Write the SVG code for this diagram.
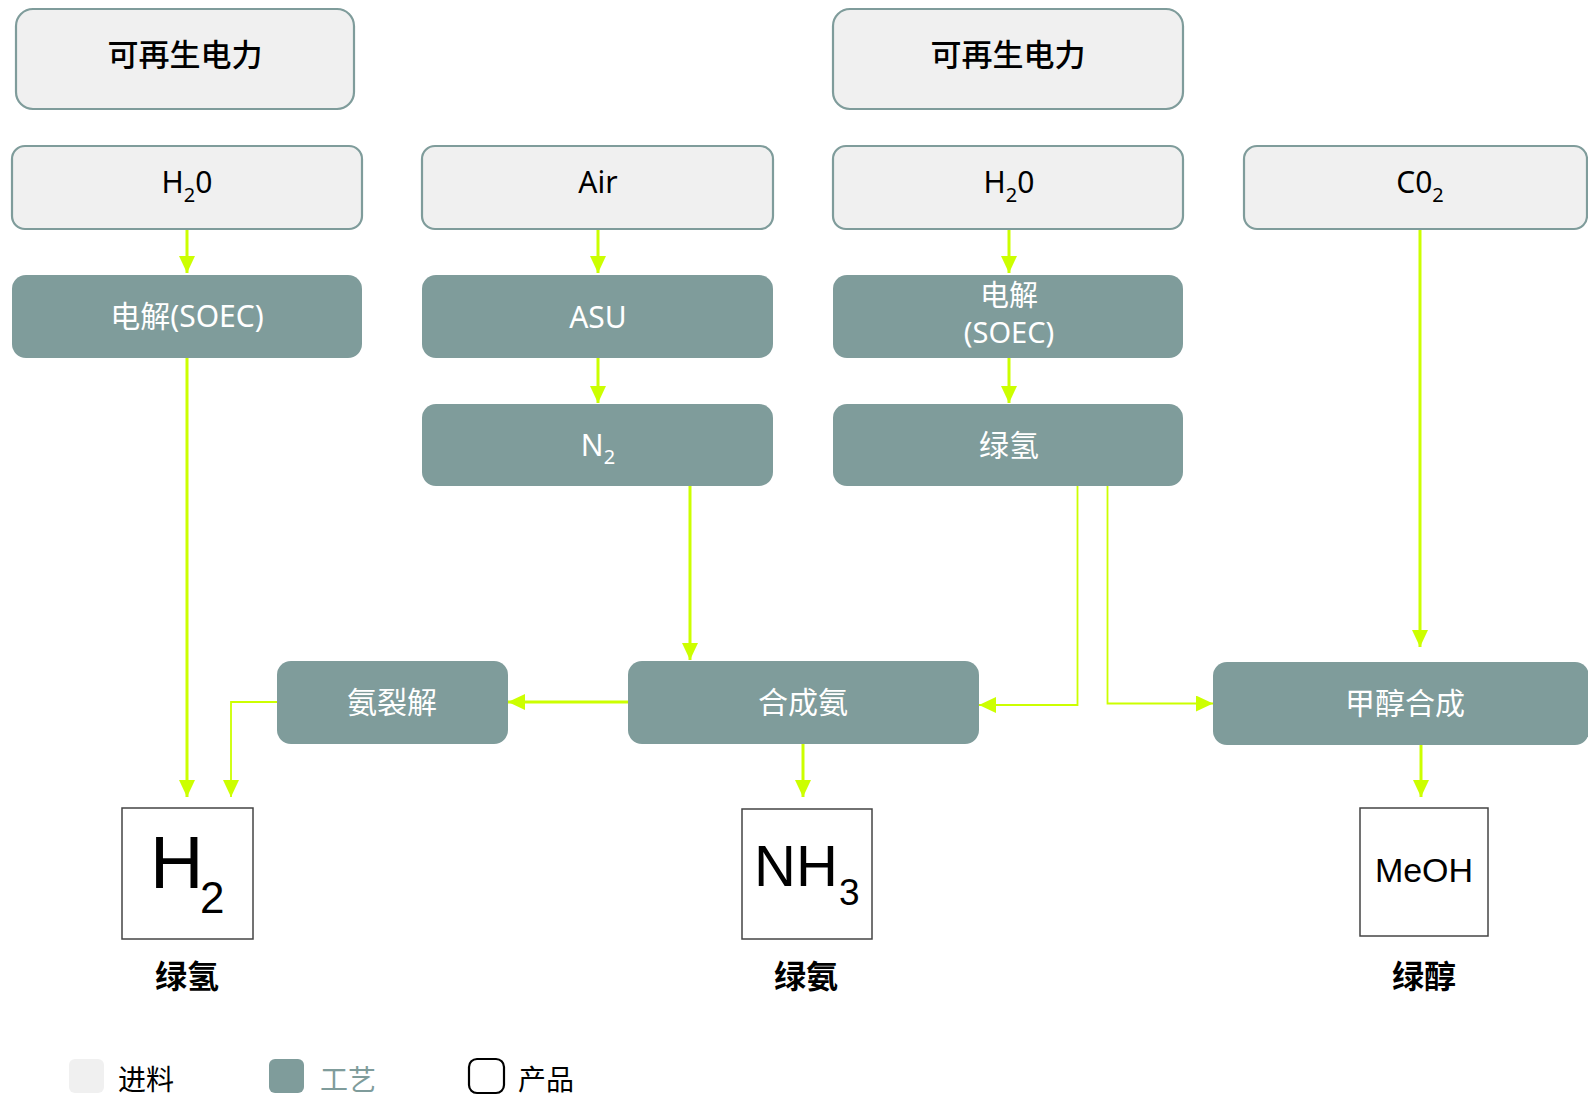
<svg xmlns="http://www.w3.org/2000/svg" width="1588" height="1096" viewBox="0 0 1588 1096">
<style>
.feed{fill:#f0f0f0;stroke:#7f9c9b;stroke-width:2.2}
.proc{fill:#7f9c9b}
.prod{fill:#fff;stroke:#444;stroke-width:1.5}
.t{font-family:"Noto Sans","Noto Sans CJK SC",sans-serif;font-size:30px;text-anchor:middle}
.tb{fill:#000}
.tw{fill:#fff}
.big{font-family:"Liberation Sans",Arial,sans-serif;fill:#000}
.lab{font-family:"Noto Sans CJK SC",sans-serif;font-size:32px;font-weight:bold;text-anchor:middle;fill:#000}
.leg{font-family:"Noto Sans CJK SC",sans-serif;font-size:28px}
.c{fill:none;stroke:#ccff00;stroke-width:3}
.c2{fill:none;stroke:#ccff00;stroke-width:1.8}
</style>
<defs>
<marker id="ah" markerUnits="userSpaceOnUse" markerWidth="17" markerHeight="16" refX="17" refY="8" orient="auto">
<path d="M0,0 L17,8 L0,16 z" fill="#ccff00"/>
</marker>
</defs>
<rect width="1588" height="1096" fill="#fff"/>

<g id="connectors">
<path class="c" d="M187,229 V273" marker-end="url(#ah)"/>
<path class="c" d="M187,358 V797" marker-end="url(#ah)"/>
<path class="c" d="M598,229 V273" marker-end="url(#ah)"/>
<path class="c" d="M598,358 V403" marker-end="url(#ah)"/>
<path class="c" d="M690,486 V660" marker-end="url(#ah)"/>
<path class="c" d="M1009,229 V273" marker-end="url(#ah)"/>
<path class="c" d="M1009,358 V403" marker-end="url(#ah)"/>
<path class="c2" d="M1077.5,486 V705 H979" marker-end="url(#ah)"/>
<path class="c2" d="M1107.5,486 V703.5 H1213" marker-end="url(#ah)"/>
<path class="c" d="M1420,229 V647" marker-end="url(#ah)"/>
<path class="c" d="M1421,744 V797" marker-end="url(#ah)"/>
<path class="c" d="M628,702 H508" marker-end="url(#ah)"/>
<path class="c2" d="M277,702 H231 V797" marker-end="url(#ah)"/>
<path class="c" d="M803,744 V797" marker-end="url(#ah)"/>
</g>

<g id="power1"><rect class="feed" x="16" y="9" width="338" height="100" rx="17"/><text class="t tb" x="185" y="66" style="font-size:31px;font-weight:500">可再生电力</text></g>
<g id="power2"><rect class="feed" x="833" y="9" width="350" height="100" rx="17"/><text class="t tb" x="1008" y="66" style="font-size:31px;font-weight:500">可再生电力</text></g>

<g id="h2o1"><rect class="feed" x="12" y="146" width="350" height="83" rx="13"/><text class="t tb" x="187" y="193">H<tspan font-size="20" dy="9">2</tspan><tspan dy="-9">0</tspan></text></g>
<g id="air"><rect class="feed" x="422" y="146" width="351" height="83" rx="13"/><text class="t tb" x="598" y="193">Air</text></g>
<g id="h2o2"><rect class="feed" x="833" y="146" width="350" height="83" rx="13"/><text class="t tb" x="1009" y="193">H<tspan font-size="20" dy="9">2</tspan><tspan dy="-9">0</tspan></text></g>
<g id="co2"><rect class="feed" x="1244" y="146" width="343" height="83" rx="13"/><text class="t tb" x="1420" y="193">C0<tspan font-size="20" dy="9">2</tspan></text></g>

<g id="soec1"><rect class="proc" x="12" y="275" width="350" height="83" rx="14"/><text class="t tw" x="187" y="327">电解(SOEC)</text></g>
<g id="asu"><rect class="proc" x="422" y="275" width="351" height="83" rx="14"/><text class="t tw" x="598" y="328">ASU</text></g>
<g id="soec2"><rect class="proc" x="833" y="275" width="350" height="83" rx="14"/><text class="t tw" x="1009" y="306" style="font-size:29px">电解</text><text class="t tw" x="1009" y="343" style="font-size:29px">(SOEC)</text></g>
<g id="n2"><rect class="proc" x="422" y="404" width="351" height="82" rx="14"/><text class="t tw" x="598" y="456">N<tspan font-size="20" dy="8">2</tspan></text></g>
<g id="greenh2"><rect class="proc" x="833" y="404" width="350" height="82" rx="14"/><text class="t tw" x="1009" y="456">绿氢</text></g>

<g id="cracking"><rect class="proc" x="277" y="661" width="231" height="83" rx="14"/><text class="t tw" x="392" y="713">氨裂解</text></g>
<g id="nh3syn"><rect class="proc" x="628" y="661" width="351" height="83" rx="14"/><text class="t tw" x="803" y="713">合成氨</text></g>
<g id="meohsyn"><rect class="proc" x="1213" y="662" width="376" height="83" rx="14"/><text class="t tw" x="1405" y="714">甲醇合成</text></g>

<g id="h2prod"><rect class="prod" x="122" y="808" width="131" height="131"/><text class="big" x="150" y="888" font-size="74">H</text><text class="big" x="200" y="913" font-size="44">2</text><text class="lab" x="187" y="988">绿氢</text></g>
<g id="nh3prod"><rect class="prod" x="742" y="809" width="130" height="130"/><text class="big" x="754" y="886" font-size="58">NH</text><text class="big" x="839" y="905" font-size="37">3</text><text class="lab" x="806" y="988">绿氨</text></g>
<g id="meohprod"><rect class="prod" x="1360" y="808" width="128" height="128"/><text class="big" x="1424" y="882" font-size="34" text-anchor="middle">MeOH</text><text class="lab" x="1424" y="988">绿醇</text></g>

<g id="legend">
<rect x="69" y="1059" width="35" height="34" rx="6" fill="#f0f0f0"/>
<text class="leg" x="118" y="1090" fill="#000">进料</text>
<rect x="269" y="1059" width="35" height="34" rx="6" fill="#7f9c9b"/>
<text class="leg" x="320" y="1090" fill="#7f9c9b">工艺</text>
<rect x="469" y="1059" width="35" height="34" rx="8" fill="#fff" stroke="#000" stroke-width="2.2"/>
<text class="leg" x="518" y="1090" fill="#000">产品</text>
</g>
</svg>
